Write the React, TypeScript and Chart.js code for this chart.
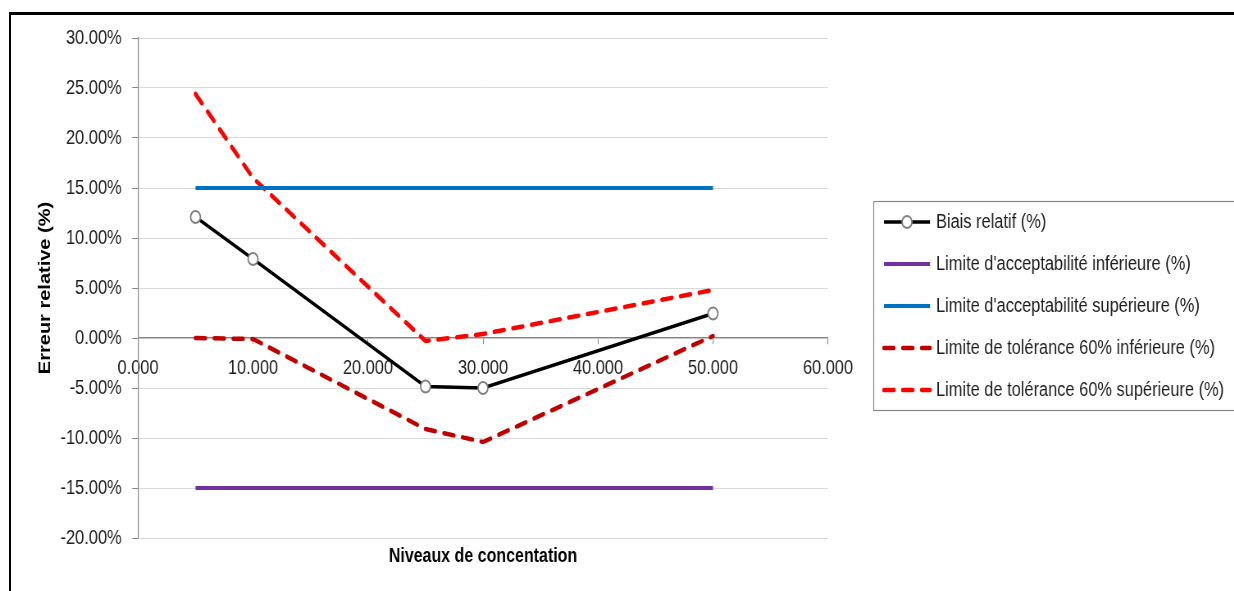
import React, { useEffect, useRef } from 'react';
import { Chart, registerables } from 'chart.js';

Chart.register(...registerables);

// Concentration levels (x) and the relative errors, in percent, for each series
const concentrations = [5, 10, 25, 30, 50];
const biaisRelatif = [12.1, 7.9, -4.85, -5.0, 2.45];
const limiteAccInf = [-15, -15, -15, -15, -15];
const limiteAccSup = [15, 15, 15, 15, 15];
const toleranceInf = [0.0, -0.1, -9.1, -10.4, 0.2];
const toleranceSup = [24.4, 16.0, -0.3, 0.4, 4.8];

const seriesLabels = [
  'Biais relatif (%)',
  "Limite d'acceptabilité inférieure (%)",
  "Limite d'acceptabilité supérieure (%)",
  'Limite de tolérance 60% inférieure (%)',
  'Limite de tolérance 60% supérieure (%)',
];
const xTitle = 'Niveaux de concentation';
const yTitle = 'Erreur relative (%)';

// The canvas is drawn wide and squeezed horizontally to give narrow lettering
const SQUEEZE = 0.82;
const VIEW_W = 1234;
const VIEW_H = 591;
const CANVAS_W = Math.round(VIEW_W / SQUEEZE);
const sx = (x: number) => x / SQUEEZE;

const FONT = "'Liberation Sans', Arial, sans-serif";
const TEXT = '#1e1e1e';
const AXIS = '#868686';

const toPoints = (ys: number[]) => concentrations.map((x, i) => ({ x, y: ys[i] }));

// Boxed legend at the right and the x-axis title under the plot
const decorations = {
  id: 'decorations',
  afterDraw(chart: any) {
    const ctx = chart.ctx as CanvasRenderingContext2D;
    const area = chart.chartArea;

    ctx.save();
    ctx.font = `bold 19.5px ${FONT}`;
    ctx.fillStyle = '#000';
    ctx.textAlign = 'center';
    ctx.textBaseline = 'middle';
    ctx.fillText(xTitle, (area.left + area.right) / 2, 557);
    ctx.restore();

    const boxLeft = Math.round(sx(873)) + 0.5;
    const boxTop = 201.5;
    const boxHeight = 209;
    ctx.save();
    ctx.strokeStyle = AXIS;
    ctx.lineWidth = 1.2;
    ctx.strokeRect(boxLeft, boxTop, 600, boxHeight);
    ctx.restore();

    chart.data.datasets.forEach((ds: any, i: number) => {
      const y = 222 + i * 42;
      const x0 = sx(884);
      const x1 = sx(930);
      ctx.save();
      ctx.strokeStyle = ds.borderColor;
      ctx.lineWidth = ds.borderWidth;
      ctx.lineCap = ds.borderDash && ds.borderDash.length ? 'round' : 'butt';
      ctx.setLineDash(ds.borderDash || []);
      ctx.beginPath();
      ctx.moveTo(x0, y);
      ctx.lineTo(x1, y);
      ctx.stroke();
      ctx.setLineDash([]);
      if (ds.pointRadius > 0) {
        ctx.beginPath();
        ctx.arc((x0 + x1) / 2, y, ds.pointRadius, 0, Math.PI * 2);
        ctx.fillStyle = ds.pointBackgroundColor;
        ctx.fill();
        ctx.lineWidth = ds.pointBorderWidth;
        ctx.strokeStyle = ds.pointBorderColor;
        ctx.stroke();
      }
      ctx.font = `20px ${FONT}`;
      ctx.fillStyle = TEXT;
      ctx.textAlign = 'left';
      ctx.textBaseline = 'middle';
      ctx.fillText(ds.label, sx(936), y);
      ctx.restore();
    });
  },
};

export default function App() {
  const canvasRef = useRef<HTMLCanvasElement | null>(null);

  useEffect(() => {
    const canvas = canvasRef.current;
    if (!canvas) return;

    const dashed = [12, 11];
    const plotLeft = sx(138);
    const plotRight = sx(828);
    const padLeft = 43;

    const chart = new Chart(canvas, {
      type: 'line',
      data: {
        datasets: [
          {
            label: seriesLabels[0],
            data: toPoints(biaisRelatif),
            borderColor: '#000000',
            borderWidth: 3.4,
            pointRadius: 6,
            pointBackgroundColor: '#ffffff',
            pointBorderColor: '#808080',
            pointBorderWidth: 1.8,
          },
          {
            label: seriesLabels[1],
            data: toPoints(limiteAccInf),
            borderColor: '#7030a0',
            borderWidth: 4,
            pointRadius: 0,
          },
          {
            label: seriesLabels[2],
            data: toPoints(limiteAccSup),
            borderColor: '#0070c0',
            borderWidth: 4,
            pointRadius: 0,
          },
          {
            label: seriesLabels[3],
            data: toPoints(toleranceInf),
            borderColor: '#c00000',
            borderWidth: 4.5,
            borderDash: dashed,
            borderCapStyle: 'round',
            borderJoinStyle: 'round',
            pointRadius: 0,
          },
          {
            label: seriesLabels[4],
            data: toPoints(toleranceSup),
            borderColor: '#ff0000',
            borderWidth: 4.5,
            borderDash: dashed,
            borderCapStyle: 'round',
            borderJoinStyle: 'round',
            pointRadius: 0,
          },
        ] as any,
      },
      options: {
        responsive: false,
        animation: false,
        layout: { padding: { left: padLeft, top: 38, right: CANVAS_W - plotRight, bottom: 53 } },
        plugins: {
          legend: { display: false },
          tooltip: { enabled: false },
        },
        scales: {
          x: {
            type: 'linear',
            min: 0,
            max: 60,
            position: { y: 0 } as any,
            ticks: {
              stepSize: 10,
              callback: (v: any) => Number(v).toFixed(3),
              font: { family: FONT, size: 20 },
              color: TEXT,
              padding: 12,
              maxRotation: 0,
              autoSkip: false,
            },
            grid: {
              drawOnChartArea: false,
              drawTicks: true,
              tickLength: 6,
              color: AXIS,
            },
            border: { display: true, color: AXIS, width: 1.2 },
          },
          y: {
            type: 'linear',
            position: 'left',
            min: -20,
            max: 30,
            afterFit: (scale: any) => {
              scale.width = plotLeft - padLeft;
            },
            ticks: {
              stepSize: 5,
              callback: (v: any) => Number(v).toFixed(2) + '%',
              font: { family: FONT, size: 20 },
              color: TEXT,
              padding: 13,
            },
            grid: {
              color: '#d9d9d9',
              tickColor: AXIS,
              tickLength: 7,
            },
            border: { display: true, color: AXIS, width: 1.2 },
            title: {
              display: true,
              text: yTitle,
              font: { family: FONT, size: 20, weight: 'bold' },
              color: '#000',
              padding: 0,
            },
          },
        },
      },
      plugins: [decorations],
    });

    return () => chart.destroy();
  }, []);

  return (
    <div
      style={{
        position: 'fixed',
        left: 0,
        top: 0,
        width: VIEW_W,
        height: VIEW_H,
        background: '#fff',
        overflow: 'hidden',
      }}
    >
      <div style={{ width: CANVAS_W, height: VIEW_H, transform: `scaleX(${SQUEEZE})`, transformOrigin: '0 0' }}>
        <canvas ref={canvasRef} width={CANVAS_W} height={VIEW_H} style={{ display: 'block' }} />
      </div>
      <div
        style={{
          position: 'absolute',
          left: 9,
          top: 12,
          width: VIEW_W - 9,
          height: VIEW_H - 12,
          boxSizing: 'border-box',
          borderTop: '3px solid #000',
          borderLeft: '2px solid #000',
          pointerEvents: 'none',
        }}
      />
    </div>
  );
}
